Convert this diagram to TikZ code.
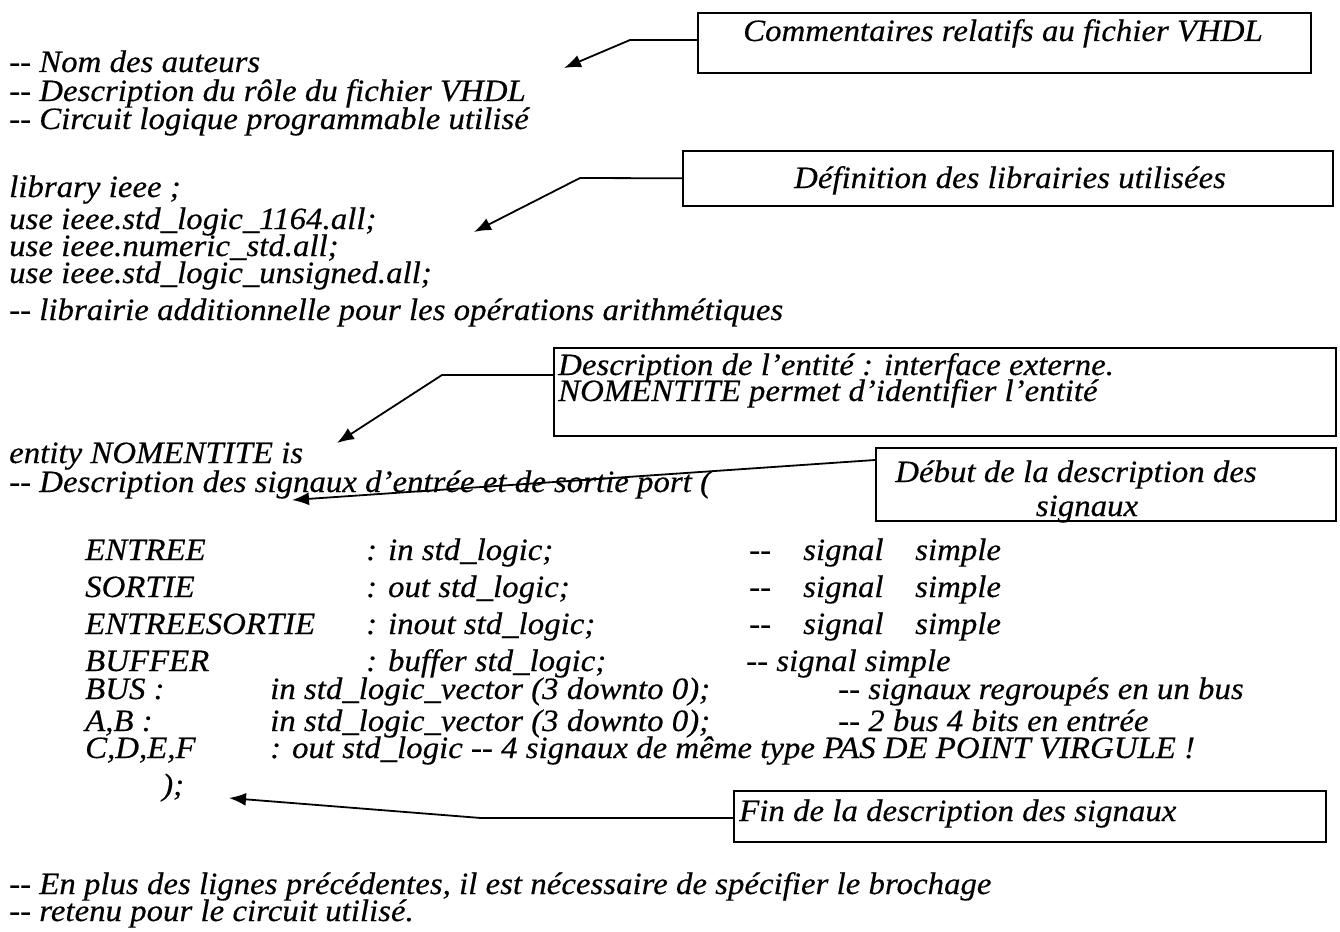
\documentclass[tikz,border=0pt]{standalone}
\usepackage{fontspec}
\setmainfont{Liberation Serif}[FakeStretch=1.06, FakeBold=0.4]
\usetikzlibrary{arrows.meta}

\newcommand{\dd}{-{}-}

\tikzset{
  txt/.style={anchor=base west, inner sep=0pt, font=\fontsize{31}{34}\selectfont\itshape},
  ctxt/.style={txt, anchor=base},
  notebox/.style={draw, line width=1.6pt, inner sep=0pt, anchor=north west},
  conn/.style={line width=1.8pt, -{Latex[length=17pt,width=13pt]}},
}

\begin{document}
\begin{tikzpicture}[x=1pt, y=-1pt]
\useasboundingbox (0,0) rectangle (1340,931);

% header comments
\node[txt] (h1) at (9,72)  {\dd\ Nom des auteurs};
\node[txt] (h2) at (9,101) {\dd\ Description du rôle du fichier VHDL};
\node[txt] (h3) at (9,129) {\dd\ Circuit logique programmable utilisé};

% libraries
\node[txt] (l1) at (9,197) {library ieee ;};
\node[txt] (l2) at (9,229) {use ieee.std\_logic\_1164.all;};
\node[txt] (l3) at (9,256) {use ieee.numeric\_std.all;};
\node[txt] (l4) at (9,283) {use ieee.std\_logic\_unsigned.all;};
\node[txt] (l5) at (9,320) {\dd\ librairie additionnelle pour les opérations arithmétiques};

% entity
\node[txt] (e1) at (9,463) {entity NOMENTITE is};
\node[txt] (e2) at (9,492) {\dd\ Description des signaux d’entrée et de sortie port (};

% ports
\node[txt] (p1a) at (85,560) {ENTREE};
\node[txt] (p1b) at (366,560) {: in std\_logic;};
\node[txt] (p2a) at (85,597) {SORTIE};
\node[txt] (p2b) at (366,597) {: out std\_logic;};
\node[txt] (p3a) at (85,634) {ENTREESORTIE};
\node[txt] (p3b) at (366,634) {: inout std\_logic;};
\node[txt] (p4a) at (85,671) {BUFFER};
\node[txt] (p4b) at (366,671) {: buffer std\_logic;};
\foreach \r/\y in {1/560, 2/597, 3/634}{
  \node[txt] (p\r c) at (749,\y) {\dd};
  \node[txt] (p\r d) at (803,\y) {signal};
  \node[txt] (p\r e) at (915,\y) {simple};
}
\node[txt] (p4c) at (746,671) {\dd\ signal simple};
\node[txt] (p5a) at (85,699) {BUS :};
\node[txt] (p5b) at (270,699) {in std\_logic\_vector (3 downto 0);};
\node[txt] (p5c) at (838,699) {\dd\ signaux regroupés en un bus};
\node[txt] (p6a) at (85,731) {A,B :};
\node[txt] (p6b) at (270,731) {in std\_logic\_vector (3 downto 0);};
\node[txt] (p6c) at (838,731) {\dd\ 2 bus 4 bits en entrée};
\node[txt] (p7a) at (85,758) {C,D,E,F};
\node[txt] (p7b) at (270,758) {: out std\_logic \dd\ 4 signaux de même type PAS DE POINT VIRGULE !};
\node[txt] (p8)  at (162,795) {);};

% trailing comments
\node[txt] (f1) at (9,894) {\dd\ En plus des lignes précédentes, il est nécessaire de spécifier le brochage};
\node[txt] (f2) at (9,921) {\dd\ retenu pour le circuit utilisé.};

% annotation boxes
\node[notebox, minimum width=613pt, minimum height=60pt] (b1) at (697,12) {};
\node[ctxt] (b1t) at (1003,41) {Commentaires relatifs au fichier VHDL};

\node[notebox, minimum width=650pt, minimum height=55pt] (b2) at (682,150) {};
\node[ctxt] (b2t) at (1010,188) {Définition des librairies utilisées};

\node[notebox, minimum width=782pt, minimum height=88pt] (b3) at (553,347) {};
\node[txt] (b3t1) at (558,375) {Description de l’entité : interface externe.};
\node[txt] (b3t2) at (558,401) {NOMENTITE permet d’identifier l’entité};

\node[notebox, minimum width=460pt, minimum height=73pt] (b4) at (875,447) {};
\node[ctxt] (b4t1) at (1076,482) {Début de la description des};
\node[ctxt] (b4t2) at (1087,516) {signaux};

\node[notebox, minimum width=592pt, minimum height=51pt] (b5) at (733,790) {};
\node[txt] (b5t) at (739,821) {Fin de la description des signaux};

% connector bends and tips
\coordinate (k1) at (630,40);   \coordinate (t1) at (564,68);
\coordinate (k2) at (580,178);  \coordinate (t2) at (474,232);
\coordinate (k3) at (442,375);  \coordinate (t3) at (337,443);
\coordinate (t4) at (292,500);
\coordinate (k5) at (481,818);  \coordinate (t5) at (229,798);

\draw[conn] (b1.north west) ++(0,28) -- (k1) -- (t1);
\draw[conn] (b2.west) -- (k2) -- (t2);
\draw[conn] (b3.north west) ++(0,28) -- (k3) -- (t3);
\draw[conn] (b4.north west) ++(0,13) -- (t4);
\draw[conn] (b5.north west) ++(0,28) -- (k5) -- (t5);
\end{tikzpicture}
\end{document}
